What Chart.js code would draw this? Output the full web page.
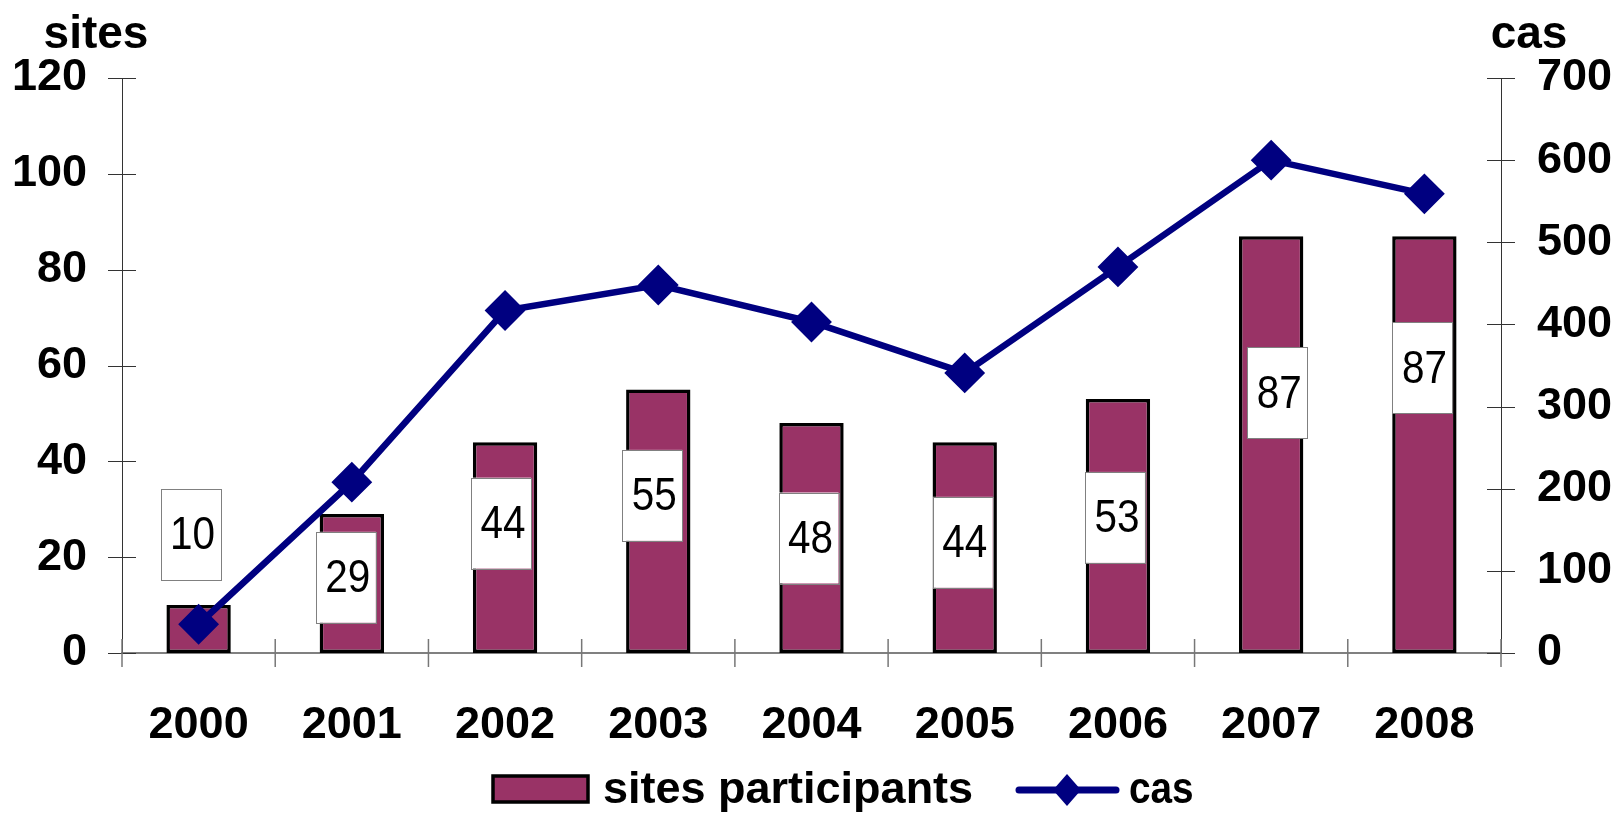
<!DOCTYPE html>
<html lang="fr">
<head>
<meta charset="utf-8">
<title>sites participants / cas</title>
<script src="https://cdn.jsdelivr.net/npm/chart.js"></script>
<style>
  html, body { margin: 0; padding: 0; background: #fff; }
  #wrap { position: relative; width: 1616px; height: 813px; }
</style>
</head>
<body>
<div id="wrap"><canvas id="chart"></canvas></div>

<script>
  // data
  const years = ['2000', '2001', '2002', '2003', '2004', '2005', '2006', '2007', '2008'];
  const sites = [10, 29, 44, 55, 48, 44, 53, 87, 87];
  const cas = [35, 208, 417, 448, 403, 341, 470, 600, 559];

  // where the value boxes sit (in "sites" units) and a small sideways nudge
  const labelAt = [24.8, 15.8, 27.1, 32.9, 24, 23.1, 28.3, 54.3, 59.5];
  const labelNudge = [-8, -6, -4, -6, -3, -2, -3, 6, -2];

  const FONT = "'Liberation Sans', Arial, sans-serif";
  const MAROON = '#993366';
  const NAVY = '#000080';

  Chart.defaults.font.family = FONT;
  Chart.defaults.color = '#000';

  // text drawn narrower than the font, like the original
  function squish(ctx, text, x, y, sx) {
    ctx.save();
    ctx.translate(x, y);
    ctx.scale(sx, 1);
    ctx.fillText(text, 0, 0);
    ctx.restore();
  }

  // tick marks that cross the axes
  const crossTicks = {
    id: 'crossTicks',
    beforeDatasetsDraw(chart) {
      const ctx = chart.ctx;
      const area = chart.chartArea;
      const yl = chart.scales.y, yr = chart.scales.y1;
      ctx.save();
      ctx.strokeStyle = '#333';
      ctx.lineWidth = 1;
      yl.ticks.forEach(t => {
        const py = Math.round(yl.getPixelForValue(t.value)) + 0.5;
        ctx.beginPath();
        ctx.moveTo(area.left - 14, py);
        ctx.lineTo(area.left + 14, py);
        ctx.stroke();
      });
      yr.ticks.forEach(t => {
        const py = Math.round(yr.getPixelForValue(t.value)) + 0.5;
        ctx.beginPath();
        ctx.moveTo(area.right - 14, py);
        ctx.lineTo(area.right + 14, py);
        ctx.stroke();
      });
      ctx.strokeStyle = '#777';
      ctx.lineWidth = 1.5;
      const w = (area.right - area.left) / years.length;
      for (let i = 0; i <= years.length; i++) {
        const px = area.left + i * w;
        ctx.beginPath();
        ctx.moveTo(px, area.bottom - 14);
        ctx.lineTo(px, area.bottom + 14);
        ctx.stroke();
      }
      ctx.restore();
    }
  };

  // white boxes with the bar values
  const valueBoxes = {
    id: 'valueBoxes',
    afterDatasetsDraw(chart) {
      const ctx = chart.ctx;
      const meta = chart.getDatasetMeta(1);
      const yl = chart.scales.y;
      ctx.save();
      meta.data.forEach((bar, i) => {
        const cx = bar.x + labelNudge[i];
        const cy = yl.getPixelForValue(labelAt[i]);
        const bw = 60, bh = 91;
        ctx.fillStyle = '#fff';
        ctx.fillRect(cx - bw / 2, cy - bh / 2, bw, bh);
        ctx.strokeStyle = '#808080';
        ctx.lineWidth = 1;
        ctx.strokeRect(Math.round(cx - bw / 2) + 0.5, Math.round(cy - bh / 2) + 0.5, bw, bh);
        ctx.fillStyle = '#000';
        ctx.font = '46px ' + FONT;
        ctx.textAlign = 'center';
        ctx.textBaseline = 'middle';
        squish(ctx, String(sites[i]), cx + 2, cy + 2, 0.88);
      });
      ctx.restore();
    }
  };

  // axis titles and the legend underneath
  const extras = {
    id: 'extras',
    afterDraw(chart) {
      const ctx = chart.ctx;
      ctx.save();
      ctx.fillStyle = '#000';
      ctx.font = 'bold 46px ' + FONT;
      ctx.textBaseline = 'alphabetic';
      ctx.textAlign = 'center';
      ctx.fillText('sites', 96, 48);
      ctx.fillText('cas', 1529, 48);

      // legend
      const ly = 790;
      ctx.fillStyle = MAROON;
      ctx.fillRect(493, 776, 95, 26);
      ctx.strokeStyle = '#000';
      ctx.lineWidth = 3.5;
      ctx.strokeRect(493, 776, 95, 26);

      ctx.fillStyle = '#000';
      ctx.font = 'bold 45px ' + FONT;
      ctx.textAlign = 'left';
      ctx.fillText('sites participants', 603, 803);

      ctx.strokeStyle = NAVY;
      ctx.lineWidth = 7;
      ctx.lineCap = 'round';
      ctx.beginPath();
      ctx.moveTo(1019, ly);
      ctx.lineTo(1116, ly);
      ctx.stroke();
      ctx.fillStyle = NAVY;
      ctx.beginPath();
      ctx.moveTo(1067, ly - 16);
      ctx.lineTo(1081, ly);
      ctx.lineTo(1067, ly + 16);
      ctx.lineTo(1053, ly);
      ctx.closePath();
      ctx.fill();

      ctx.fillStyle = '#000';
      squish(ctx, 'cas', 1129, 803, 0.86);
      ctx.restore();
    }
  };

  const tickFont = { size: 45, weight: 'bold', family: FONT };

  new Chart(document.getElementById('chart'), {
    data: {
      labels: years,
      datasets: [
        {
          type: 'line',
          label: 'cas',
          data: cas,
          yAxisID: 'y1',
          borderColor: NAVY,
          backgroundColor: NAVY,
          borderWidth: 6.5,
          pointStyle: 'rectRot',
          pointRadius: 19,
          pointHoverRadius: 19,
          pointBackgroundColor: NAVY,
          pointBorderColor: NAVY,
          pointBorderWidth: 2,
          tension: 0,
          order: 1
        },
        {
          type: 'bar',
          label: 'sites participants',
          data: sites,
          yAxisID: 'y',
          backgroundColor: MAROON,
          borderColor: '#000',
          borderWidth: 3.5,
          borderSkipped: false,
          categoryPercentage: 1,
          barPercentage: 0.42,
          order: 2
        }
      ]
    },
    options: {
      responsive: true,
      maintainAspectRatio: false,
      animation: false,
      layout: { padding: { top: 78, left: 0, right: 0, bottom: 0 } },
      plugins: {
        legend: { display: false },
        tooltip: { enabled: false }
      },
      scales: {
        x: {
          offset: true,
          grid: { display: false },
          border: { display: true, color: '#808080', width: 2 },
          ticks: { font: tickFont, color: '#000', padding: 38, maxRotation: 0, autoSkip: false },
          afterFit(scale) { scale.height = 160; }
        },
        y: {
          position: 'left',
          min: 0,
          max: 120,
          grid: { display: false },
          border: { display: true, color: '#333', width: 1 },
          ticks: { stepSize: 20, font: tickFont, color: '#000', padding: 27 },
          afterFit(scale) { scale.width = 122; }
        },
        y1: {
          position: 'right',
          min: 0,
          max: 700,
          grid: { display: false },
          border: { display: true, color: '#333', width: 1 },
          ticks: { stepSize: 100, font: tickFont, color: '#000', padding: 28 },
          afterFit(scale) { scale.width = 115; }
        }
      }
    },
    plugins: [crossTicks, valueBoxes, extras]
  });
</script>
</body>
</html>
